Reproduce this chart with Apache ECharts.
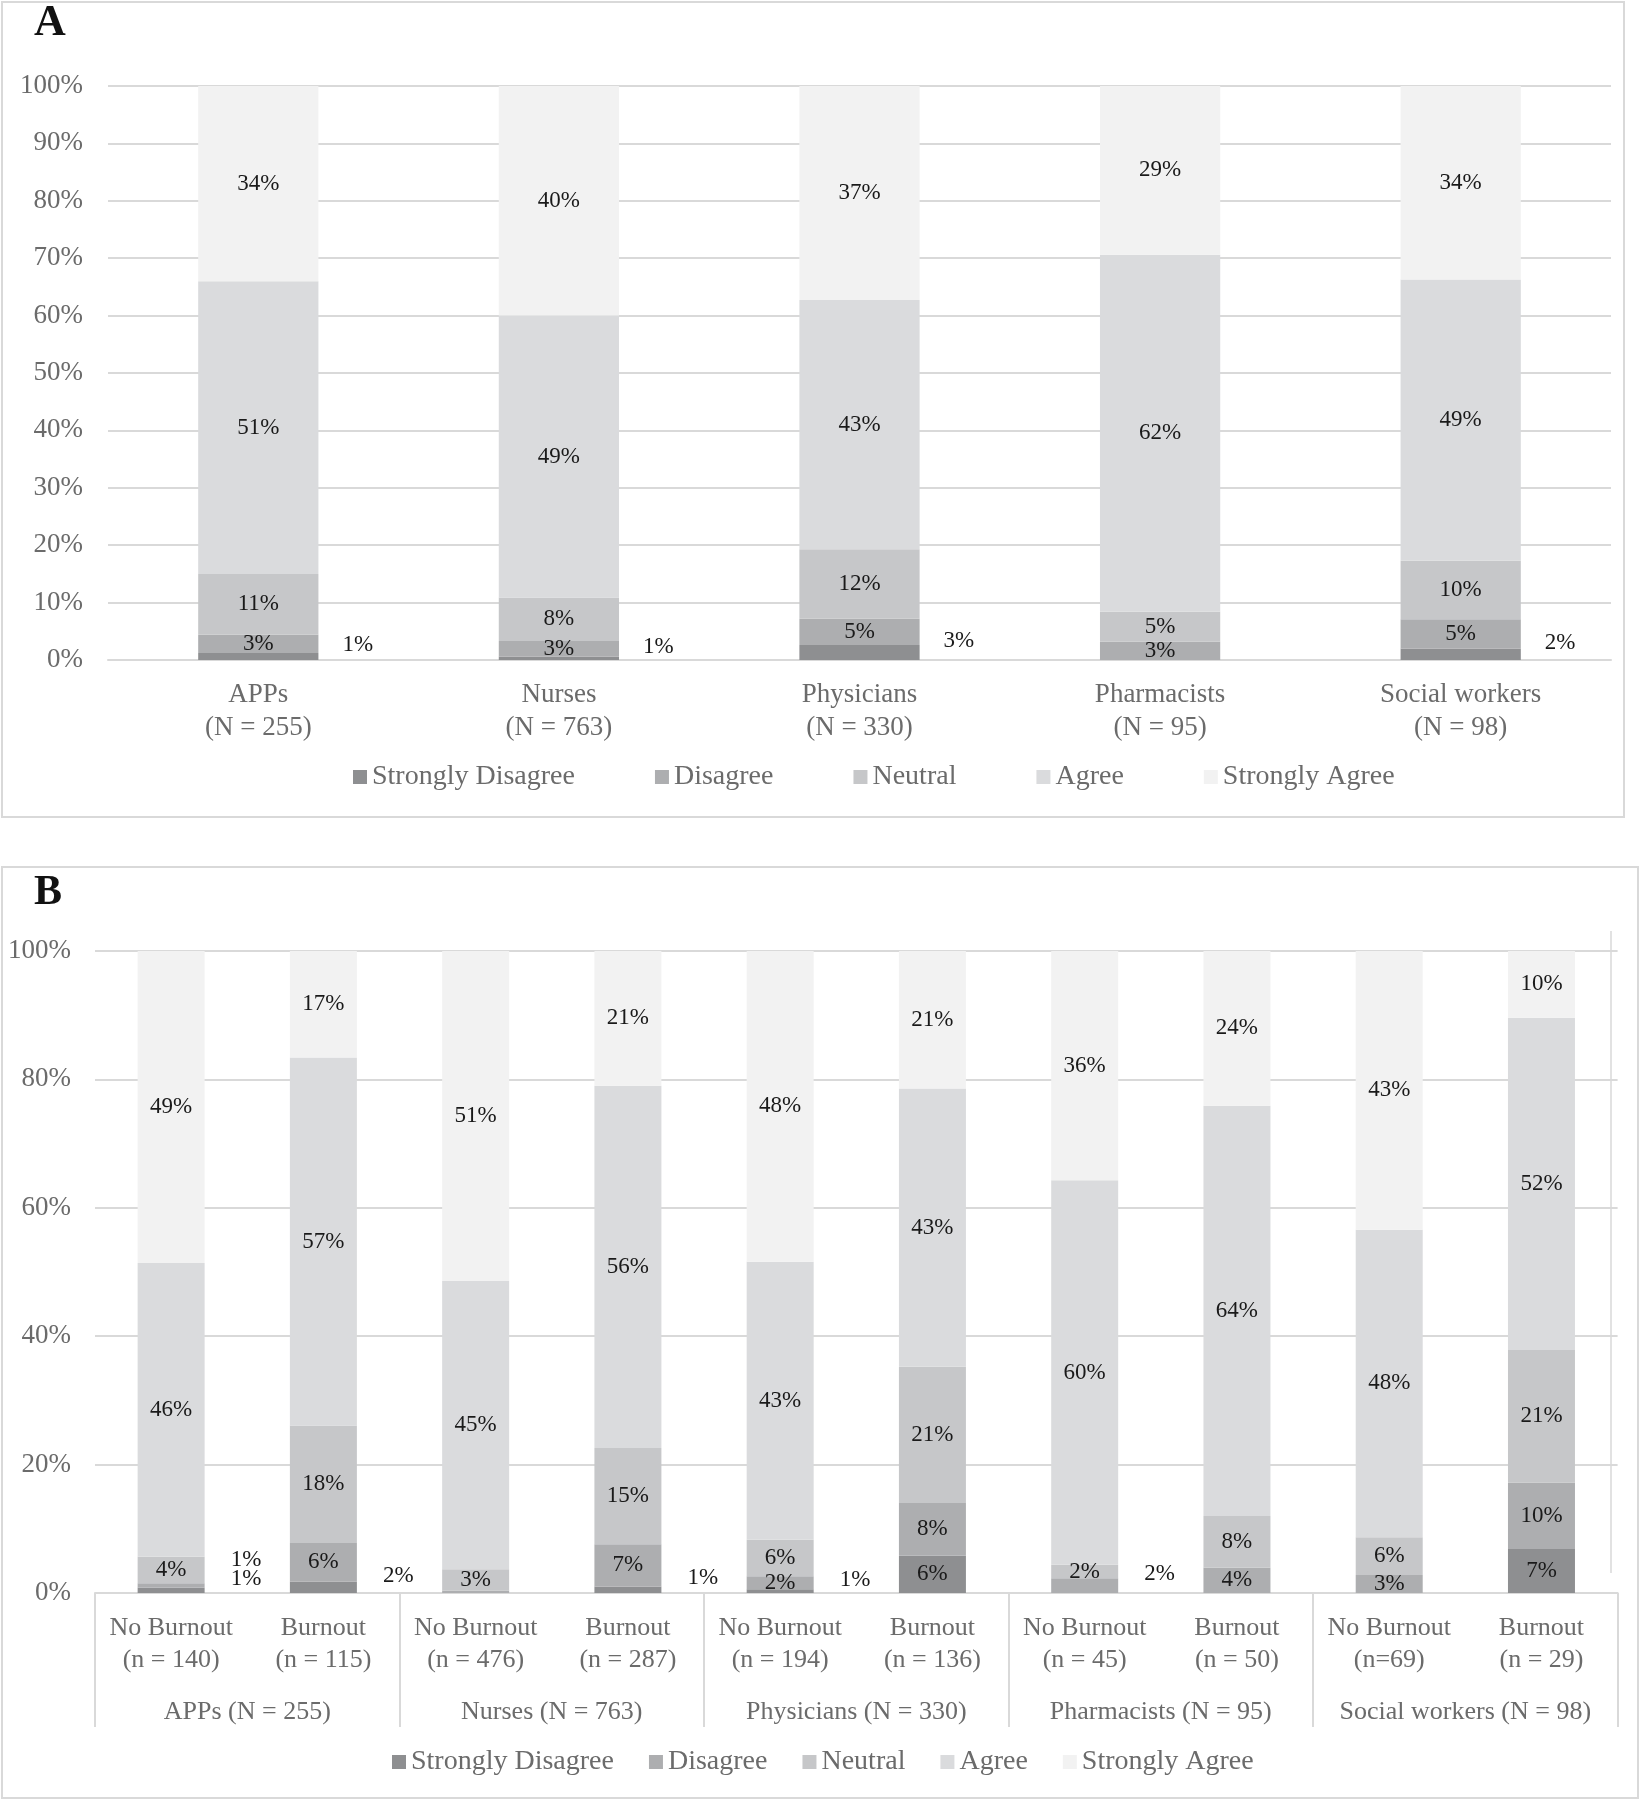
<!DOCTYPE html>
<html>
<head>
<meta charset="utf-8">
<script src="https://cdn.jsdelivr.net/npm/echarts@6/dist/echarts.min.js"></script>
<style>
html,body{margin:0;padding:0;background:#fff;}
#c{width:1640px;height:1800px;}
</style>
</head>
<body>
<div id="c"></div>
<script>
// ---- data ----
const levels = ['Strongly Disagree', 'Disagree', 'Neutral', 'Agree', 'Strongly Agree'];

const catsA = ['APPs\n(N = 255)', 'Nurses\n(N = 763)', 'Physicians\n(N = 330)', 'Pharmacists\n(N = 95)', 'Social workers\n(N = 98)'];
const A_SD = [1.2, 0.6, 2.6, 0, 2.0];
const A_D  = [3.2, 2.7, 4.6, 3.2, 5.1];
const A_N  = [10.6, 7.6, 12.1, 5.2, 10.2];
const A_A  = [51.0, 49.1, 43.4, 62.2, 49.0];
const A_SA = [34.0, 40.0, 37.3, 29.4, 33.7];

const catsB = ['No Burnout\n(n = 140)', 'Burnout\n(n = 115)', 'No Burnout\n(n = 476)', 'Burnout\n(n = 287)',
               'No Burnout\n(n = 194)', 'Burnout\n(n = 136)', 'No Burnout\n(n = 45)', 'Burnout\n(n = 50)',
               'No Burnout\n(n=69)', 'Burnout\n(n = 29)'];
const groupsB = ['APPs (N = 255)', 'Nurses (N = 763)', 'Physicians (N = 330)', 'Pharmacists (N = 95)', 'Social workers (N = 98)'];
const B_SD = [0.8, 1.8, 0, 1.0, 0.6, 5.8, 0, 0, 0, 6.85];
const B_D  = [0.7, 6.0, 0.4, 6.6, 2.0, 8.2, 2.3, 3.95, 2.8, 10.35];
const B_N  = [4.15, 18.3, 3.3, 15.0, 5.7, 21.25, 2.1, 8.05, 5.9, 20.65];
const B_A  = [45.75, 57.3, 44.9, 56.4, 43.3, 43.35, 59.9, 63.9, 47.9, 51.75];
const B_SA = [48.6, 16.6, 51.4, 21.0, 48.4, 21.4, 35.7, 24.1, 43.4, 10.4];

const yTicksA = [0, 10, 20, 30, 40, 50, 60, 70, 80, 90, 100];
const yTicksB = [0, 20, 40, 60, 80, 100];

// ---- styling ----
const FONT = '"Liberation Serif", "Times New Roman", serif';
const colors = ['#8e8f91', '#adaeb0', '#c6c7c9', '#dadbdd', '#f2f2f2'];
const GRID_C = '#d9d9d9';
const GRAY_TXT = '#6b6b6b';
const LABEL_TXT = '#1a1a1a';

const valsA = [A_SD, A_D, A_N, A_A, A_SA];
const valsB = [B_SD, B_D, B_N, B_A, B_SA];

function outsideA(s, i) { return s === 0; }
function outsideB(s, i) {
  if (s > 1) return false;
  const v = valsB[s][i];
  if (v >= 2.5) return false;
  const lowest = (s === 0) || (valsB[0][i] === 0);
  return lowest || v < 1.5;
}

function itemLabel(panel, s, i, v) {
  if (Math.round(v) === 0) return { show: false };
  const out = panel === 'A' ? outsideA(s, i) : outsideB(s, i);
  if (out) {
    let extra = 0;
    if (panel === 'B' && s === 1 && outsideB(0, i) && Math.round(valsB[0][i]) > 0) extra = -14;
    return { show: true, position: 'right', distance: panel === 'A' ? 24 : 26,
             verticalAlign: 'bottom', offset: [0, extra] };
  }
  return { show: true, position: 'inside' };
}

function buildSeries(panel, vals, xIdx, yIdx, barW) {
  return vals.map((arr, s) => ({
    name: levels[s],
    type: 'bar',
    stack: 'stack' + panel,
    xAxisIndex: xIdx,
    yAxisIndex: yIdx,
    barWidth: barW,
    itemStyle: { color: colors[s] },
    label: {
      show: true,
      fontFamily: FONT,
      fontSize: 23,
      color: LABEL_TXT,
      formatter: p => Math.round(p.value) + '%'
    },
    emphasis: { disabled: true },
    data: arr.map((v, i) => ({ value: v, label: itemLabel(panel, s, i, v) }))
  }));
}

const chart = echarts.init(document.getElementById('c'), null, { renderer: 'canvas' });

const yAxisCommon = (interval, ticks, fs, margin) => ({
  type: 'value', min: 0, max: 100, interval: interval,
  axisLine: { show: false }, axisTick: { show: false },
  axisLabel: { formatter: v => (ticks.indexOf(v) >= 0 ? v + '%' : ''), fontFamily: FONT, fontSize: fs, color: GRAY_TXT, margin: margin },
  splitLine: { lineStyle: { color: GRID_C, width: 2 } }
});

const option = {
  animation: false,
  backgroundColor: '#fff',
  graphic: [
    { type: 'rect', shape: { x: 2, y: 2, width: 1622, height: 815 }, style: { fill: 'none', stroke: GRID_C, lineWidth: 2 }, silent: true },
    { type: 'rect', shape: { x: 2, y: 867, width: 1636, height: 931 }, style: { fill: 'none', stroke: GRID_C, lineWidth: 2 }, silent: true },
    { type: 'line', shape: { x1: 1611, y1: 931, x2: 1611, y2: 1573 }, style: { stroke: '#e2e2e2', lineWidth: 2 }, silent: true },
    { type: 'text', x: 34, y: 24, style: { text: 'A', font: 'bold 44px ' + FONT, fill: '#111', align: 'left', verticalAlign: 'middle' }, silent: true },
    { type: 'text', x: 34, y: 893, style: { text: 'B', font: 'bold 42px ' + FONT, fill: '#111', align: 'left', verticalAlign: 'middle' }, silent: true }
  ],
  legend: [
    { data: levels, left: 348, top: 758, itemGap: 80, itemWidth: 14, itemHeight: 14, icon: 'rect',
      textStyle: { fontFamily: FONT, fontSize: 28, color: GRAY_TXT }, selectedMode: false },
    { data: levels, left: 387, top: 1743, itemGap: 35, itemWidth: 14, itemHeight: 14, icon: 'rect',
      textStyle: { fontFamily: FONT, fontSize: 28, color: GRAY_TXT }, selectedMode: false }
  ],
  grid: [
    { left: 108, top: 86, width: 1503, height: 574, containLabel: false },
    { left: 95, top: 951, width: 1522.6, height: 642, containLabel: false }
  ],
  xAxis: [
    { gridIndex: 0, type: 'category', data: catsA,
      axisTick: { show: false },
      axisLine: { lineStyle: { color: GRID_C, width: 2 } },
      axisLabel: { interval: 0, fontFamily: FONT, fontSize: 27, lineHeight: 33, margin: 18, color: GRAY_TXT } },
    { gridIndex: 1, type: 'category', data: catsB, position: 'bottom',
      axisTick: { show: false },
      axisLine: { lineStyle: { color: GRID_C, width: 2 } },
      axisLabel: { interval: 0, fontFamily: FONT, fontSize: 26, lineHeight: 32, margin: 19, color: GRAY_TXT } },
    { gridIndex: 1, type: 'category', data: groupsB, position: 'bottom', offset: 0,
      axisLine: { show: false, onZero: false },
      axisTick: { show: true, interval: 0, length: 134, lineStyle: { color: GRID_C, width: 2 } },
      axisLabel: { interval: 0, fontFamily: FONT, fontSize: 26, lineHeight: 30, margin: 104, color: GRAY_TXT } }
  ],
  yAxis: [
    Object.assign({ gridIndex: 0 }, yAxisCommon(10, yTicksA, 27, 25)),
    Object.assign({ gridIndex: 1 }, yAxisCommon(20, yTicksB, 27, 24))
  ],
  series: [].concat(
    buildSeries('A', valsA, 0, 0, '40%'),
    buildSeries('B', valsB, 1, 1, '44%')
  )
};

chart.setOption(option);
</script>
</body>
</html>
